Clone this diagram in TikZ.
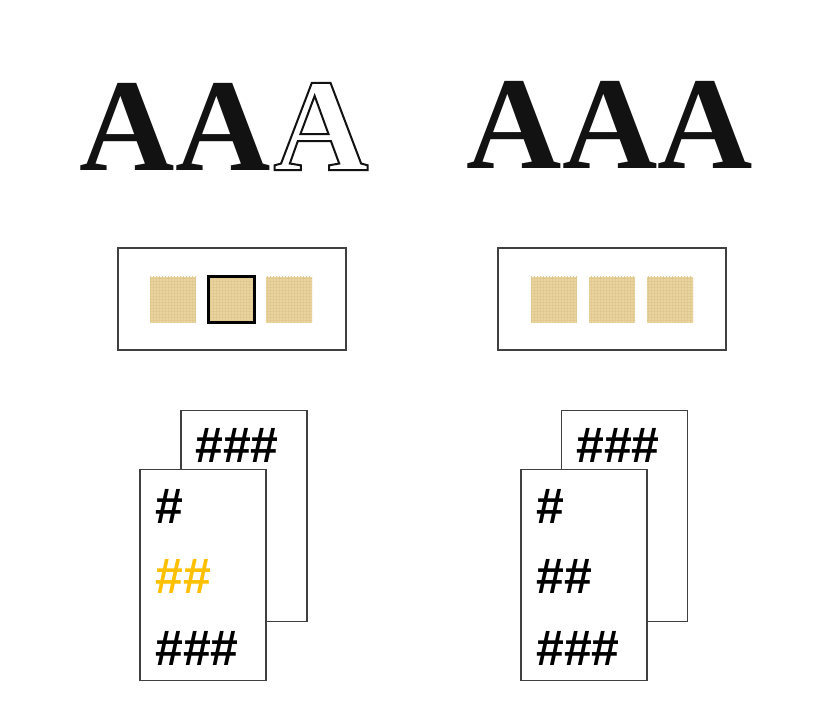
\documentclass[tikz,border=0pt]{standalone}
\usepackage{fontspec}
\setmainfont{Liberation Serif}
\newfontfamily\hashfont{Liberation Sans}
\usetikzlibrary{patterns}
\definecolor{burlap}{RGB}{234,213,158}
\definecolor{burlapline}{RGB}{224,202,146}
\definecolor{gold}{RGB}{255,192,0}
\definecolor{framegray}{RGB}{64,64,64}
\newcommand{\hollowtext}[1]{\special{pdf:code q 1 Tr 2 w}#1\special{pdf:code Q}}
\begin{document}
\begin{tikzpicture}
        [
            x = 1pt, y = -1pt,
            letter/.style={anchor=base, inner sep=0pt, font=\fontsize{132}{132}\selectfont\bfseries, text=black!93},
            frame/.style={draw=framegray, line width=1.3pt, minimum width=228pt, minimum height=102pt},
            swatch/.style={fill=burlap, postaction={pattern=grid, pattern color=burlapline}, minimum size=46pt, inner sep=0pt},
            picked/.style={postaction={draw=black, line width=2.6pt}},
            page/.style={draw=framegray, line width=1.2pt, fill=white, minimum width=126pt, minimum height=211pt},
            hash/.style={anchor=west, inner sep=0pt, font=\hashfont\bfseries\fontsize{50}{50}\selectfont},
        ]
        \useasboundingbox (0,0) rectangle (834,707);
        % letters
        \node[letter] (la1) at (127,170) {A};
        \node[letter] (la2) at (223,170) {A};
        \node[letter] (la3) at (321,170) {\hollowtext{A}};
        \node[letter] (ra1) at (514,168) {A};
        \node[letter] (ra2) at (610,168) {A};
        \node[letter] (ra3) at (705,168) {A};
        % swatch boxes
        \node[frame] (lframe) at (232,299) {};
        \node[frame] (rframe) at (612,299) {};
        \node[swatch] (ls1) at (173,299.5) {};
        \node[swatch, picked] (ls2) at (231.5,299.5) {};
        \node[swatch] (ls3) at (289,299.5) {};
        \node[swatch] (rs1) at (554,299.5) {};
        \node[swatch] (rs2) at (612,299.5) {};
        \node[swatch] (rs3) at (670,299.5) {};
        % pages
        \node[page] (lback) at (244,516) {};
        \node[hash] (lbackh3) at (195,445) {\#\#\#};
        \node[page] (lfront) at (203,575) {};
        \node[hash] (lh1) at (155,506) {\#};
        \node[hash, text=gold] (lh2) at (155,576) {\#\#};
        \node[hash] (lh3) at (155,648) {\#\#\#};
        \node[page] (rback) at (624.5,516) {};
        \node[hash] (rbackh3) at (576,445) {\#\#\#};
        \node[page] (rfront) at (584,575) {};
        \node[hash] (rh1) at (536,506) {\#};
        \node[hash] (rh2) at (536,576) {\#\#};
        \node[hash] (rh3) at (536,648) {\#\#\#};
    \end{tikzpicture}
\end{document}
